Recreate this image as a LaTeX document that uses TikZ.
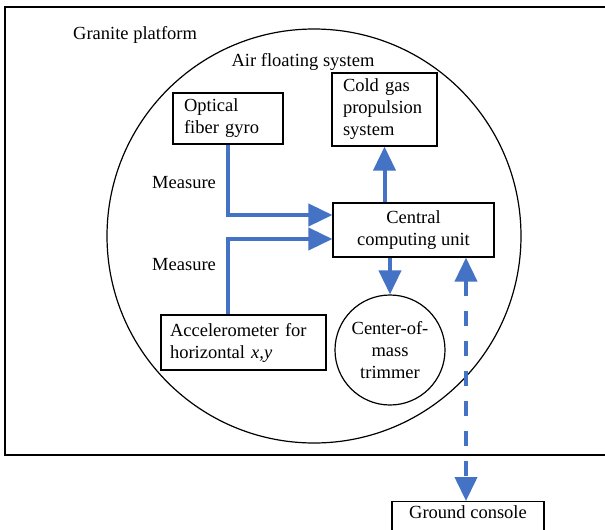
\documentclass[tikz,border=0pt]{standalone}
\usepackage{fontspec}
\setmainfont{Liberation Serif}
\usetikzlibrary{arrows.meta,calc}
\definecolor{flowblue}{RGB}{68,114,196}
\tikzset{
  txt/.style={font=\fontsize{18.5}{22}\selectfont},
  lbl/.style={txt, inner sep=0pt},
  box/.style={draw, line width=1.2pt, txt, inner ysep=2pt},
  flow/.style={color=flowblue, line width=4pt, -{Triangle[length=24pt,width=22pt]}},
  dflow/.style={color=flowblue, line width=4pt, dash pattern=on 15pt off 15pt,
    {Triangle[length=24pt,width=22pt]}-{Triangle[length=24pt,width=22pt]}}
}
\begin{document}
\begin{tikzpicture}[x=1pt,y=-1pt]
\useasboundingbox (0,0) rectangle (605,530);
\fill[white] (0,0) rectangle (605,530);
% granite platform
\draw[line width=1.2pt] (5,7) rectangle (615,455);
\node[lbl, anchor=west] (granite) at (73,35) {Granite platform};
% air floating system
\draw[line width=1.2pt] (314,236) circle[radius=207pt];
\node[lbl] (air) at (303,62) {Air floating system};
% boxes
\node[box, align=left, text width=88pt, inner xsep=11pt, minimum height=51pt] (gyro) at (228,118.5) {Optical\\fiber gyro};
\node[box, align=left, text width=83pt, inner xsep=11pt, minimum height=73pt] (cold) at (384.5,109.5) {Cold gas\\propulsion\\system};
\node[box, align=center, minimum width=161pt, minimum height=54pt] (central) at (413.5,230) {Central\\computing unit};
\node[box, align=left, text width=147pt, inner xsep=9pt, minimum height=55pt] (acc) at (243.5,342.5) {Accelerometer for\\horizontal \textit{x,y}};
\node[circle, draw, line width=1.2pt, txt, minimum size=110pt, inner sep=0pt, align=center] (trim) at (390,350) {Center-of-\\mass\\trimmer};
\node[box, anchor=north, minimum width=152pt, inner ysep=3pt, text height=14pt, text depth=20pt] (ground) at (468,501) {Ground console};
% labels
\node[lbl, anchor=west] (m1) at (152,183) {Measure};
\node[lbl, anchor=west] (m2) at (152,265) {Measure};
% connectors
\draw[flow] (gyro.south) |- ([yshift=15pt]central.west);
\draw[flow] (acc.north -| gyro.south) |- ([yshift=-9pt]central.west);
\draw[flow] (central.north -| cold.south) -- (cold.south);
\draw[flow] (central.south -| trim.north) -- (trim.north);
\coordinate (gtop) at ([xshift=-2pt]ground.north);
\draw[dflow] (central.south -| gtop) -- (gtop);
\end{tikzpicture}
\end{document}
